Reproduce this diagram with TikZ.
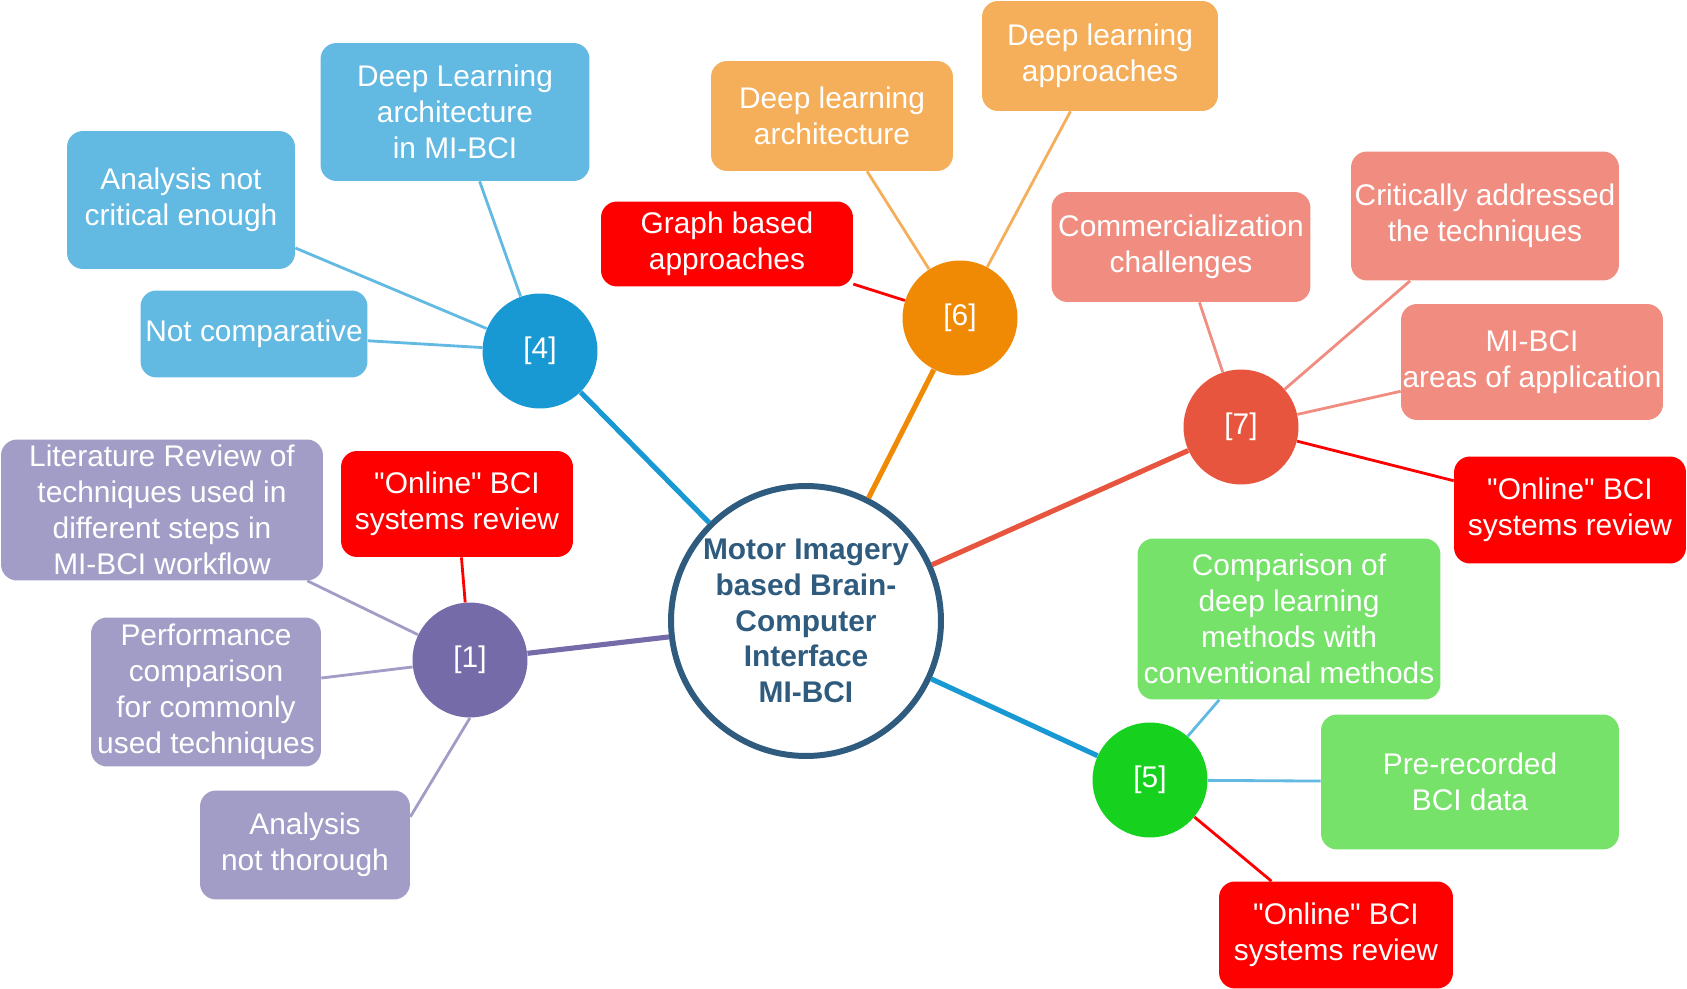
\documentclass[tikz,border=0pt]{standalone}
\usepackage{fontspec}
\setmainfont{Liberation Sans}[Ligatures=TeXOff]
\usetikzlibrary{shapes}
\definecolor{mainblue}{HTML}{2E5B7E}
\definecolor{hubblue}{HTML}{1899D3}
\definecolor{boxblue}{HTML}{62B9E1}
\definecolor{huborange}{HTML}{F08A05}
\definecolor{boxorange}{HTML}{F5AF5B}
\definecolor{hubsalmon}{HTML}{E8553F}
\definecolor{boxsalmon}{HTML}{F08D80}
\definecolor{hubgreen}{HTML}{16D11E}
\definecolor{boxgreen}{HTML}{76E26A}
\definecolor{hubpurple}{HTML}{746BA8}
\definecolor{boxpurple}{HTML}{A29DC6}
\definecolor{boxred}{HTML}{FF0000}
\newcommand{\onl}{"Online" BCI\\systems review}
\tikzstyle{mn}=[circle,draw=mainblue,line width=3.4pt,fill=white,text=mainblue,minimum size=5.4cm,inner sep=0pt,align=center,font=\fontsize{17}{20.4}\selectfont\bfseries]
\tikzstyle{hb}=[circle,text=white,minimum size=2.3cm,inner sep=0pt,font=\fontsize{17}{20.4}\selectfont]
\tikzstyle{bx}=[rectangle,rounded corners=.32cm,text=white,align=center,inner sep=0pt,font=\fontsize{17}{20.4}\selectfont]
\tikzstyle{thn}=[line width=1.6pt]
\tikzstyle{thk}=[line width=2.9pt]

\begin{document}
\begin{tikzpicture}[x=0.02cm,y=-0.02cm]
		\useasboundingbox (0,0) rectangle (1687,989);
		% centre and hubs
		\node[mn] (mi) at (806,621) {Motor Imagery\\based Brain-\\Computer\\Interface\\MI-BCI};
		\node[hb,fill=hubblue] (h4) at (540,351) {[4]};
		\node[hb,fill=huborange] (h6) at (960,318) {[6]};
		\node[hb,fill=hubsalmon] (h7) at (1241,427) {[7]};
		\node[hb,fill=hubgreen] (h5) at (1150,780) {[5]};
		\node[hb,fill=hubpurple] (h1) at (470,660) {[1]};
		% [4]
		\node[bx,fill=boxblue,minimum width=5.38cm,minimum height=2.76cm] (dla4) at (455,112) {Deep Learning\\architecture\\in MI-BCI};
		\node[bx,fill=boxblue,minimum width=4.56cm,minimum height=2.76cm] (anc) at (181,200) {Analysis not\\critical enough};
		\node[bx,fill=boxblue,minimum width=4.54cm,minimum height=1.74cm] (ncp) at (254,334) {Not comparative};
		% [6]
		\node[bx,fill=boxorange,minimum width=4.84cm,minimum height=2.2cm] (dla6) at (832,116) {Deep learning\\architecture};
		\node[bx,fill=boxorange,minimum width=4.72cm,minimum height=2.2cm] (dlap) at (1100,56) {Deep learning\\approaches};
		\node[bx,fill=boxred,minimum width=5.04cm,minimum height=1.7cm] (gba) at (727,244) {Graph based\\approaches};
		% [7]
		\node[bx,fill=boxsalmon,minimum width=5.18cm,minimum height=2.2cm] (cmc) at (1181,247) {Commercialization\\challenges};
		\node[bx,fill=boxsalmon,minimum width=5.36cm,minimum height=2.58cm] (cat) at (1485,216) {Critically addressed\\the techniques};
		\node[bx,fill=boxsalmon,minimum width=5.24cm,minimum height=2.32cm] (aoa) at (1532,362) {MI-BCI\\areas of application};
		\node[bx,fill=boxred,minimum width=4.64cm,minimum height=2.14cm] (onr) at (1570,510) {\onl};
		% [5]
		\node[bx,fill=boxgreen,minimum width=6.06cm,minimum height=3.22cm] (cdl) at (1289,619) {Comparison of\\deep learning\\methods with\\conventional methods};
		\node[bx,fill=boxgreen,minimum width=5.96cm,minimum height=2.7cm] (prd) at (1470,782) {Pre-recorded\\BCI data};
		\node[bx,fill=boxred,minimum width=4.68cm,minimum height=2.14cm] (onb) at (1336,935) {\onl};
		% [1]
		\node[bx,fill=boxpurple,minimum width=6.44cm,minimum height=2.82cm] (ltr) at (162,510) {Literature Review of\\techniques used in\\different steps in\\MI-BCI workflow};
		\node[bx,fill=boxpurple,minimum width=4.6cm,minimum height=2.98cm] (pfc) at (206,692) {Performance\\comparison\\for commonly\\used techniques};
		\node[bx,fill=boxpurple,minimum width=4.2cm,minimum height=2.18cm] (ath) at (305,845) {Analysis\\not thorough};
		\node[bx,fill=boxred,minimum width=4.64cm,minimum height=2.12cm] (onl) at (457,504) {\onl};
		% hub to centre
		\draw[thk,hubblue] (h4) -- (mi);
		\draw[thk,huborange] (h6) -- (mi);
		\draw[thk,hubsalmon] (h7) -- (mi);
		\draw[thk,hubblue] (h5) -- (mi);
		\draw[thk,hubpurple] (h1) -- (mi);
		% hub to boxes
		\draw[thn,boxblue] (h4) -- (dla4);
		\draw[thn,boxblue] (h4) -- (anc);
		\draw[thn,boxblue] (h4) -- (ncp);
		\draw[thn,boxorange] (h6) -- (dla6);
		\draw[thn,boxorange] (h6) -- (dlap);
		\draw[thn,boxred] (h6) -- (gba);
		\draw[thn,boxsalmon] (h7) -- (cmc);
		\draw[thn,boxsalmon] (h7) -- (cat);
		\draw[thn,boxsalmon] (h7) -- (aoa);
		\draw[thn,boxred] (h7) -- (onr);
		\draw[thn,boxblue] (h5) -- (cdl);
		\draw[thn,boxblue] (h5) -- (prd);
		\draw[thn,boxred] (h5) -- (onb);
		\draw[thn,boxpurple] (h1) -- (ltr);
		\draw[thn,boxpurple] (h1) -- (pfc);
		\draw[thn,boxpurple] (h1.south) -- (ath.15);
		\draw[thn,boxred] (h1) -- (onl);
	\end{tikzpicture}
\end{document}
